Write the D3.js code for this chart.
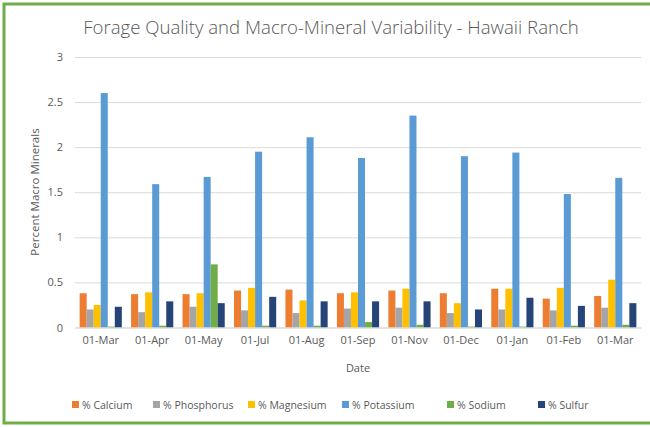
<!DOCTYPE html>
<html>
<head>
<meta charset="utf-8">
<script src="https://cdn.jsdelivr.net/npm/d3@7/dist/d3.min.js"></script>
<style>
html,body{margin:0;padding:0;background:#fff;}
svg{display:block;font-family:"Open Sans","Liberation Sans",sans-serif;}
</style>
</head>
<body>
<svg id="chart" width="650" height="427"></svg>
<script>
const title = "Forage Quality and Macro-Mineral Variability - Hawaii Ranch";
const categories = ["01-Mar","01-Apr","01-May","01-Jul","01-Aug","01-Sep","01-Nov","01-Dec","01-Jan","01-Feb","01-Mar"];
const seriesNames = ["% Calcium","% Phosphorus","% Magnesium","% Potassium","% Sodium","% Sulfur"];
const seriesColors = ["#ED7D31","#A5A5A5","#FFC000","#5B9BD5","#70AD47","#264478"];
const calcium    = [0.38,0.37,0.37,0.41,0.42,0.38,0.41,0.38,0.43,0.32,0.35];
const phosphorus = [0.20,0.17,0.23,0.19,0.16,0.21,0.22,0.16,0.20,0.19,0.22];
const magnesium  = [0.25,0.39,0.38,0.44,0.30,0.39,0.43,0.27,0.43,0.44,0.53];
const potassium  = [2.60,1.59,1.67,1.95,2.11,1.88,2.35,1.90,1.94,1.48,1.66];
const sodium     = [0.01,0.02,0.70,0.02,0.02,0.06,0.03,0.01,0.01,0.02,0.03];
const sulfur     = [0.23,0.29,0.27,0.34,0.29,0.29,0.29,0.20,0.33,0.24,0.27];
const yTicks = [0,0.5,1,1.5,2,2.5,3];
const yTickLabels = ["0","0.5","1","1.5","2","2.5","3"];
const xAxisTitle = "Date";
const yAxisTitle = "Percent Macro Minerals";

const seriesValues = [calcium, phosphorus, magnesium, potassium, sodium, sulfur];

const svg = d3.select("#chart");
const W = 650, H = 427;
const m = {left: 75, right: 9, top: 57, bottom: 100};
const plotW = W - m.left - m.right;
const plotH = 327.5 - m.top;

// frame
svg.append("rect").attr("x",4).attr("y",4).attr("width",W+10).attr("height",419)
  .attr("fill","#fff").attr("stroke","#70AD47").attr("stroke-width",3);

const x0 = d3.scaleBand().domain(d3.range(categories.length)).range([m.left, m.left+plotW]).paddingInner(0.18).paddingOuter(0.09);
const x1 = d3.scaleBand().domain(d3.range(seriesNames.length)).range([0, x0.bandwidth()]).padding(0);
const y = d3.scaleLinear().domain([0,3]).range([m.top+plotH, m.top]);

// gridlines
const grid = svg.append("g").attr("transform",`translate(${m.left},0)`)
  .call(d3.axisLeft(y).tickValues(yTicks).tickSize(-plotW).tickFormat(""));
grid.select(".domain").remove();
grid.selectAll("line").attr("stroke","#D9D9D9").attr("stroke-width",1);

// y tick labels
const yAx = svg.append("g").attr("transform",`translate(${m.left-9},0)`)
  .call(d3.axisLeft(y).tickValues(yTicks).tickSize(0).tickFormat((d,i)=>yTickLabels[i]));
yAx.select(".domain").remove();
yAx.selectAll("text").attr("fill","#595959").style("font-size","11px").style("font-family","'Open Sans',sans-serif");

// bars
const groups = svg.append("g").selectAll("g").data(categories).join("g")
  .attr("transform",(d,i)=>`translate(${x0(i)},0)`);
groups.selectAll("rect").data((d,i)=>seriesValues.map((s,j)=>({j, v:s[i]}))).join("rect")
  .attr("x",d=>x1(d.j)).attr("width",x1.bandwidth())
  .attr("y",d=>y(d.v)).attr("height",d=>y(0)-y(d.v))
  .attr("fill",d=>seriesColors[d.j]);

// x axis
const xAx = svg.append("g").attr("transform",`translate(0,${y(0)})`)
  .call(d3.axisBottom(x0).tickSize(0).tickPadding(9).tickFormat(i=>categories[i]));
xAx.select(".domain").attr("stroke","#D9D9D9");
xAx.selectAll("text").attr("fill","#595959").style("font-size","11px").style("font-family","'Open Sans',sans-serif");

// titles
svg.append("text").attr("x",331).attr("y",34).attr("text-anchor","middle")
  .attr("fill","#595959").style("font-size","18.6px").style("font-weight","300").text(title);
svg.append("text").attr("x",358).attr("y",372).attr("text-anchor","middle")
  .attr("fill","#595959").style("font-size","11px").text(xAxisTitle);
svg.append("text").attr("transform","translate(39,192) rotate(-90)").attr("text-anchor","middle")
  .attr("fill","#595959").style("font-size","11.5px").text(yAxisTitle);

// legend
const legendX = [72,153,248,342,447,538];
const lg = svg.append("g").selectAll("g").data(seriesNames).join("g")
  .attr("transform",(d,i)=>`translate(${legendX[i]},405)`);
lg.append("rect").attr("x",0).attr("y",-4).attr("width",7).attr("height",7).attr("fill",(d,i)=>seriesColors[i]);
lg.append("text").attr("x",10).attr("y",4).attr("fill","#595959").style("font-size","10.5px").text(d=>d);
</script>
</body>
</html>
